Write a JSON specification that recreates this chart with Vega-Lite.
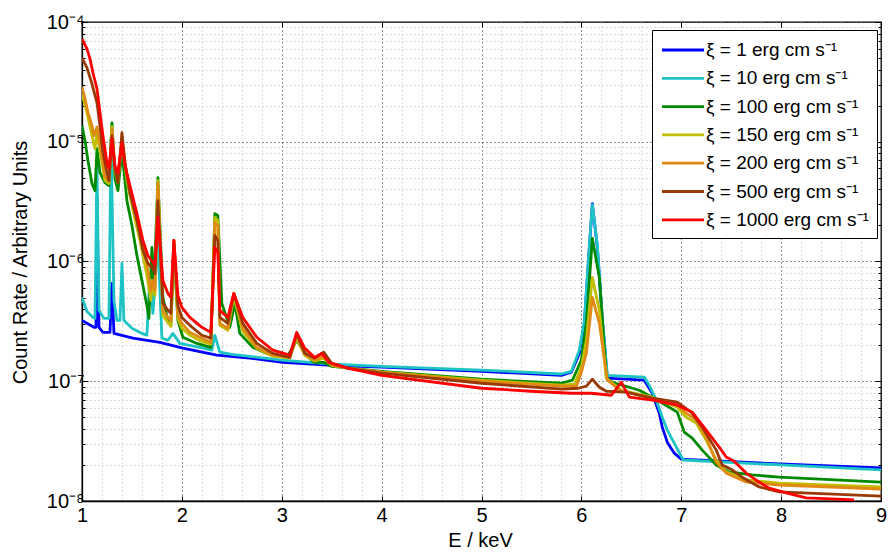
{
 "$schema": "https://vega.github.io/schema/vega-lite/v6.json",
 "width": 799, "height": 479,
 "autosize": {"type": "none"},
 "padding": {"left": 82, "top": 22, "right": 9, "bottom": 53},
 "background": "#ffffff",
 "config": {"view": {"stroke": "#000", "strokeWidth": 1.3}, "font": "Liberation Sans"},
 "data": {"values": [
{"k":1,"E":1,"v":3.22e-7},{"k":1,"E":1.12,"v":2.82e-7},{"k":1,"E":1.14,"v":2.82e-7},{"k":1,"E":1.15,"v":3.48e-6},{"k":1,"E":1.17,"v":2.82e-7},{"k":1,"E":1.21,"v":2.56e-7},{"k":1,"E":1.28,"v":2.56e-7},{"k":1,"E":1.3,"v":6.56e-7},{"k":1,"E":1.32,"v":2.51e-7},{"k":1,"E":1.51,"v":2.29e-7},{"k":1,"E":1.78,"v":2.11e-7},{"k":1,"E":2.01,"v":1.89e-7},{"k":1,"E":2.35,"v":1.65e-7},{"k":1,"E":2.68,"v":1.56e-7},{"k":1,"E":3.01,"v":1.44e-7},{"k":1,"E":3.5,"v":1.36e-7},{"k":1,"E":4,"v":1.31e-7},{"k":1,"E":5,"v":1.21e-7},{"k":1,"E":5.8,"v":1.12e-7},{"k":1,"E":5.9,"v":1.19e-7},{"k":1,"E":5.98,"v":1.71e-7},{"k":1,"E":6.03,"v":3.04e-7},{"k":1,"E":6.08,"v":1.31e-6},{"k":1,"E":6.11,"v":3.04e-6},{"k":1,"E":6.16,"v":1.31e-6},{"k":1,"E":6.21,"v":3.22e-7},{"k":1,"E":6.26,"v":1.06e-7},{"k":1,"E":6.63,"v":1.02e-7},{"k":1,"E":6.71,"v":7.94e-8},{"k":1,"E":6.78,"v":5.41e-8},{"k":1,"E":6.81,"v":4.14e-8},{"k":1,"E":6.86,"v":3.1e-8},{"k":1,"E":6.93,"v":2.51e-8},{"k":1,"E":7,"v":2.24e-8},{"k":1,"E":7.98,"v":2.04e-8},{"k":1,"E":9,"v":1.89e-8},
{"k":10,"E":1,"v":5.01e-7},{"k":10,"E":1.05,"v":3.83e-7},{"k":10,"E":1.11,"v":3.41e-7},{"k":10,"E":1.13,"v":3.35e-7},{"k":10,"E":1.15,"v":6.31e-6},{"k":10,"E":1.17,"v":3.91e-7},{"k":10,"E":1.22,"v":3.35e-7},{"k":10,"E":1.27,"v":3.35e-7},{"k":10,"E":1.29,"v":1.06e-5},{"k":10,"E":1.32,"v":4.73e-7},{"k":10,"E":1.35,"v":3.22e-7},{"k":10,"E":1.38,"v":3.22e-7},{"k":10,"E":1.4,"v":9.62e-7},{"k":10,"E":1.42,"v":3.22e-7},{"k":10,"E":1.5,"v":2.77e-7},{"k":10,"E":1.6,"v":2.51e-7},{"k":10,"E":1.65,"v":2.42e-7},{"k":10,"E":1.68,"v":7.94e-7},{"k":10,"E":1.71,"v":3.69e-7},{"k":10,"E":1.76,"v":1.5e-6},{"k":10,"E":1.8,"v":2.29e-7},{"k":10,"E":1.86,"v":2.2e-7},{"k":10,"E":1.91,"v":2.51e-7},{"k":10,"E":1.98,"v":2.07e-7},{"k":10,"E":2.18,"v":1.92e-7},{"k":10,"E":2.3,"v":1.82e-7},{"k":10,"E":2.33,"v":2.42e-7},{"k":10,"E":2.38,"v":1.75e-7},{"k":10,"E":2.5,"v":1.68e-7},{"k":10,"E":3,"v":1.5e-7},{"k":10,"E":3.5,"v":1.39e-7},{"k":10,"E":4,"v":1.33e-7},{"k":10,"E":5,"v":1.24e-7},{"k":10,"E":5.8,"v":1.15e-7},{"k":10,"E":5.9,"v":1.21e-7},{"k":10,"E":5.98,"v":1.82e-7},{"k":10,"E":6.03,"v":3.22e-7},{"k":10,"E":6.08,"v":1.36e-6},{"k":10,"E":6.11,"v":2.99e-6},{"k":10,"E":6.16,"v":1.36e-6},{"k":10,"E":6.21,"v":3.35e-7},{"k":10,"E":6.26,"v":1.12e-7},{"k":10,"E":6.63,"v":1.08e-7},{"k":10,"E":6.68,"v":9.26e-8},{"k":10,"E":6.75,"v":6.95e-8},{"k":10,"E":6.81,"v":5.01e-8},{"k":10,"E":6.86,"v":3.91e-8},{"k":10,"E":6.93,"v":3.04e-8},{"k":10,"E":7.02,"v":2.2e-8},{"k":10,"E":8,"v":2.0e-8},{"k":10,"E":9,"v":1.82e-8},
{"k":100,"E":1,"v":1.36e-5},{"k":100,"E":1.03,"v":1.02e-5},{"k":100,"E":1.06,"v":6.95e-6},{"k":100,"E":1.1,"v":4.47e-6},{"k":100,"E":1.13,"v":3.91e-6},{"k":100,"E":1.15,"v":8.74e-6},{"k":100,"E":1.18,"v":5.52e-6},{"k":100,"E":1.23,"v":4.56e-6},{"k":100,"E":1.27,"v":4.3e-6},{"k":100,"E":1.3,"v":1.44e-5},{"k":100,"E":1.33,"v":4.92e-6},{"k":100,"E":1.36,"v":3.91e-6},{"k":100,"E":1.4,"v":8.41e-6},{"k":100,"E":1.45,"v":3.22e-6},{"k":100,"E":1.5,"v":2.0e-6},{"k":100,"E":1.55,"v":1.12e-6},{"k":100,"E":1.6,"v":6.95e-7},{"k":100,"E":1.65,"v":4.3e-7},{"k":100,"E":1.67,"v":3.35e-7},{"k":100,"E":1.7,"v":1.31e-6},{"k":100,"E":1.72,"v":5.73e-7},{"k":100,"E":1.76,"v":5.01e-6},{"k":100,"E":1.81,"v":5.01e-7},{"k":100,"E":1.86,"v":3.22e-7},{"k":100,"E":1.89,"v":2.93e-7},{"k":100,"E":1.92,"v":1.24e-6},{"k":100,"E":1.96,"v":3.22e-7},{"k":100,"E":2.01,"v":2.33e-7},{"k":100,"E":2.15,"v":2.07e-7},{"k":100,"E":2.29,"v":1.92e-7},{"k":100,"E":2.33,"v":2.51e-6},{"k":100,"E":2.36,"v":2.42e-6},{"k":100,"E":2.4,"v":4.47e-7},{"k":100,"E":2.48,"v":2.82e-7},{"k":100,"E":2.53,"v":4.47e-7},{"k":100,"E":2.58,"v":2.51e-7},{"k":100,"E":2.71,"v":1.92e-7},{"k":100,"E":2.85,"v":1.71e-7},{"k":100,"E":3.05,"v":1.58e-7},{"k":100,"E":3.15,"v":2.2e-7},{"k":100,"E":3.25,"v":1.65e-7},{"k":100,"E":3.32,"v":1.44e-7},{"k":100,"E":3.42,"v":1.44e-7},{"k":100,"E":3.5,"v":1.33e-7},{"k":100,"E":4,"v":1.21e-7},{"k":100,"E":5,"v":1.04e-7},{"k":100,"E":5.8,"v":9.62e-8},{"k":100,"E":5.91,"v":1.02e-7},{"k":100,"E":6,"v":1.5e-7},{"k":100,"E":6.05,"v":3.04e-7},{"k":100,"E":6.11,"v":1.56e-6},{"k":100,"E":6.18,"v":7.36e-7},{"k":100,"E":6.25,"v":1.08e-7},{"k":100,"E":6.31,"v":9.81e-8},{"k":100,"E":6.58,"v":8.41e-8},{"k":100,"E":6.71,"v":7.36e-8},{"k":100,"E":6.88,"v":6.07e-8},{"k":100,"E":6.96,"v":5.52e-8},{"k":100,"E":7.03,"v":3.76e-8},{"k":100,"E":7.11,"v":3.35e-8},{"k":100,"E":7.21,"v":2.66e-8},{"k":100,"E":7.35,"v":2.0e-8},{"k":100,"E":7.48,"v":1.75e-8},{"k":100,"E":7.71,"v":1.65e-8},{"k":100,"E":7.98,"v":1.58e-8},{"k":100,"E":9,"v":1.44e-8},
{"k":150,"E":1,"v":2.51e-5},{"k":150,"E":1.05,"v":1.75e-5},{"k":150,"E":1.1,"v":1.12e-5},{"k":150,"E":1.13,"v":8.74e-6},{"k":150,"E":1.15,"v":1.19e-5},{"k":150,"E":1.18,"v":8.41e-6},{"k":150,"E":1.23,"v":4.73e-6},{"k":150,"E":1.27,"v":4.47e-6},{"k":150,"E":1.3,"v":1.33e-5},{"k":150,"E":1.33,"v":5.73e-6},{"k":150,"E":1.36,"v":4.56e-6},{"k":150,"E":1.4,"v":1.02e-5},{"k":150,"E":1.45,"v":4.73e-6},{"k":150,"E":1.5,"v":2.93e-6},{"k":150,"E":1.58,"v":1.5e-6},{"k":150,"E":1.65,"v":7.64e-7},{"k":150,"E":1.69,"v":4.73e-7},{"k":150,"E":1.7,"v":6.95e-7},{"k":150,"E":1.73,"v":5.21e-7},{"k":150,"E":1.76,"v":4.73e-6},{"k":150,"E":1.81,"v":3.55e-7},{"k":150,"E":1.86,"v":3.1e-7},{"k":150,"E":1.89,"v":2.87e-7},{"k":150,"E":1.92,"v":1.41e-6},{"k":150,"E":1.96,"v":3.35e-7},{"k":150,"E":2,"v":2.77e-7},{"k":150,"E":2.08,"v":2.42e-7},{"k":150,"E":2.2,"v":2.15e-7},{"k":150,"E":2.29,"v":2.04e-7},{"k":150,"E":2.33,"v":2.33e-6},{"k":150,"E":2.36,"v":2.2e-6},{"k":150,"E":2.38,"v":2.93e-7},{"k":150,"E":2.46,"v":2.66e-7},{"k":150,"E":2.52,"v":5.11e-7},{"k":150,"E":2.61,"v":2.61e-7},{"k":150,"E":2.75,"v":1.89e-7},{"k":150,"E":2.91,"v":1.62e-7},{"k":150,"E":3.08,"v":1.56e-7},{"k":150,"E":3.15,"v":2.29e-7},{"k":150,"E":3.23,"v":1.65e-7},{"k":150,"E":3.33,"v":1.47e-7},{"k":150,"E":3.42,"v":1.56e-7},{"k":150,"E":3.5,"v":1.36e-7},{"k":150,"E":3.67,"v":1.28e-7},{"k":150,"E":4,"v":1.19e-7},{"k":150,"E":5,"v":1.02e-7},{"k":150,"E":5.8,"v":9.26e-8},{"k":150,"E":5.93,"v":9.44e-8},{"k":150,"E":6,"v":1.31e-7},{"k":150,"E":6.05,"v":2.2e-7},{"k":150,"E":6.11,"v":7.36e-7},{"k":150,"E":6.18,"v":3.91e-7},{"k":150,"E":6.25,"v":1.06e-7},{"k":150,"E":6.4,"v":8.41e-8},{"k":150,"E":6.71,"v":7.36e-8},{"k":150,"E":6.96,"v":6.07e-8},{"k":150,"E":7.05,"v":5.01e-8},{"k":150,"E":7.15,"v":4.47e-8},{"k":150,"E":7.25,"v":3.22e-8},{"k":150,"E":7.35,"v":2.2e-8},{"k":150,"E":7.45,"v":1.75e-8},{"k":150,"E":7.65,"v":1.5e-8},{"k":150,"E":7.98,"v":1.41e-8},{"k":150,"E":9,"v":1.31e-8},
{"k":200,"E":1,"v":2.87e-5},{"k":200,"E":1.03,"v":2.29e-5},{"k":200,"E":1.06,"v":1.75e-5},{"k":200,"E":1.1,"v":1.36e-5},{"k":200,"E":1.12,"v":1.12e-5},{"k":200,"E":1.15,"v":1.33e-5},{"k":200,"E":1.18,"v":9.62e-6},{"k":200,"E":1.23,"v":5.11e-6},{"k":200,"E":1.27,"v":4.73e-6},{"k":200,"E":1.3,"v":1.28e-5},{"k":200,"E":1.33,"v":5.96e-6},{"k":200,"E":1.36,"v":4.92e-6},{"k":200,"E":1.4,"v":1.06e-5},{"k":200,"E":1.45,"v":5.21e-6},{"k":200,"E":1.5,"v":3.55e-6},{"k":200,"E":1.58,"v":1.82e-6},{"k":200,"E":1.65,"v":9.62e-7},{"k":200,"E":1.69,"v":5.73e-7},{"k":200,"E":1.71,"v":6.95e-7},{"k":200,"E":1.73,"v":5.73e-7},{"k":200,"E":1.76,"v":4.47e-6},{"k":200,"E":1.81,"v":3.91e-7},{"k":200,"E":1.86,"v":3.41e-7},{"k":200,"E":1.89,"v":3.22e-7},{"k":200,"E":1.92,"v":1.5e-6},{"k":200,"E":1.96,"v":3.55e-7},{"k":200,"E":2,"v":3.04e-7},{"k":200,"E":2.08,"v":2.56e-7},{"k":200,"E":2.2,"v":2.29e-7},{"k":200,"E":2.29,"v":2.11e-7},{"k":200,"E":2.33,"v":2.11e-6},{"k":200,"E":2.36,"v":2.0e-6},{"k":200,"E":2.38,"v":3.04e-7},{"k":200,"E":2.46,"v":2.77e-7},{"k":200,"E":2.52,"v":5.41e-7},{"k":200,"E":2.61,"v":2.77e-7},{"k":200,"E":2.75,"v":1.92e-7},{"k":200,"E":2.91,"v":1.65e-7},{"k":200,"E":3.08,"v":1.58e-7},{"k":200,"E":3.15,"v":2.37e-7},{"k":200,"E":3.23,"v":1.68e-7},{"k":200,"E":3.33,"v":1.5e-7},{"k":200,"E":3.42,"v":1.62e-7},{"k":200,"E":3.5,"v":1.36e-7},{"k":200,"E":3.67,"v":1.28e-7},{"k":200,"E":4,"v":1.19e-7},{"k":200,"E":5,"v":1.0e-7},{"k":200,"E":5.8,"v":9.09e-8},{"k":200,"E":5.95,"v":9.09e-8},{"k":200,"E":6,"v":1.19e-7},{"k":200,"E":6.05,"v":1.71e-7},{"k":200,"E":6.11,"v":5.01e-7},{"k":200,"E":6.18,"v":3.04e-7},{"k":200,"E":6.26,"v":1.02e-7},{"k":200,"E":6.4,"v":8.25e-8},{"k":200,"E":6.71,"v":7.22e-8},{"k":200,"E":6.96,"v":6.31e-8},{"k":200,"E":7.05,"v":5.41e-8},{"k":200,"E":7.15,"v":4.73e-8},{"k":200,"E":7.25,"v":3.41e-8},{"k":200,"E":7.35,"v":2.11e-8},{"k":200,"E":7.45,"v":1.71e-8},{"k":200,"E":7.65,"v":1.44e-8},{"k":200,"E":7.98,"v":1.36e-8},{"k":200,"E":9,"v":1.26e-8},
{"k":500,"E":1,"v":5.01e-5},{"k":500,"E":1.05,"v":4.14e-5},{"k":500,"E":1.1,"v":3.04e-5},{"k":500,"E":1.15,"v":2.11e-5},{"k":500,"E":1.18,"v":1.36e-5},{"k":500,"E":1.21,"v":8.1e-6},{"k":500,"E":1.25,"v":5.52e-6},{"k":500,"E":1.27,"v":4.73e-6},{"k":500,"E":1.3,"v":1.12e-5},{"k":500,"E":1.33,"v":5.96e-6},{"k":500,"E":1.36,"v":4.56e-6},{"k":500,"E":1.4,"v":1.19e-5},{"k":500,"E":1.43,"v":6.68e-6},{"k":500,"E":1.48,"v":3.76e-6},{"k":500,"E":1.55,"v":2.2e-6},{"k":500,"E":1.61,"v":1.24e-6},{"k":500,"E":1.66,"v":9.62e-7},{"k":500,"E":1.71,"v":8.74e-7},{"k":500,"E":1.73,"v":7.94e-7},{"k":500,"E":1.76,"v":3.22e-6},{"k":500,"E":1.81,"v":4.47e-7},{"k":500,"E":1.86,"v":3.91e-7},{"k":500,"E":1.89,"v":3.69e-7},{"k":500,"E":1.92,"v":1.5e-6},{"k":500,"E":1.96,"v":4.3e-7},{"k":500,"E":2,"v":3.41e-7},{"k":500,"E":2.08,"v":2.93e-7},{"k":500,"E":2.2,"v":2.42e-7},{"k":500,"E":2.29,"v":2.29e-7},{"k":500,"E":2.33,"v":1.65e-6},{"k":500,"E":2.36,"v":1.5e-6},{"k":500,"E":2.38,"v":3.41e-7},{"k":500,"E":2.46,"v":3.04e-7},{"k":500,"E":2.52,"v":5.41e-7},{"k":500,"E":2.61,"v":3.04e-7},{"k":500,"E":2.75,"v":2.07e-7},{"k":500,"E":2.91,"v":1.71e-7},{"k":500,"E":3.08,"v":1.58e-7},{"k":500,"E":3.15,"v":2.51e-7},{"k":500,"E":3.23,"v":1.71e-7},{"k":500,"E":3.33,"v":1.56e-7},{"k":500,"E":3.42,"v":1.75e-7},{"k":500,"E":3.5,"v":1.41e-7},{"k":500,"E":3.67,"v":1.28e-7},{"k":500,"E":4,"v":1.17e-7},{"k":500,"E":5,"v":9.62e-8},{"k":500,"E":5.8,"v":8.58e-8},{"k":500,"E":5.97,"v":8.74e-8},{"k":500,"E":6.05,"v":9.09e-8},{"k":500,"E":6.11,"v":1.04e-7},{"k":500,"E":6.18,"v":8.91e-8},{"k":500,"E":6.25,"v":8.25e-8},{"k":500,"E":6.45,"v":8.1e-8},{"k":500,"E":6.71,"v":7.22e-8},{"k":500,"E":6.96,"v":6.68e-8},{"k":500,"E":7.1,"v":5.52e-8},{"k":500,"E":7.21,"v":4.14e-8},{"k":500,"E":7.35,"v":2.66e-8},{"k":500,"E":7.41,"v":2.0e-8},{"k":500,"E":7.51,"v":1.82e-8},{"k":500,"E":7.61,"v":1.58e-8},{"k":500,"E":7.78,"v":1.31e-8},{"k":500,"E":7.98,"v":1.19e-8},{"k":500,"E":9,"v":1.1e-8},
{"k":1000,"E":1,"v":7.22e-5},{"k":1000,"E":1.02,"v":6.68e-5},{"k":1000,"E":1.05,"v":5.96e-5},{"k":1000,"E":1.08,"v":4.92e-5},{"k":1000,"E":1.11,"v":3.76e-5},{"k":1000,"E":1.15,"v":2.77e-5},{"k":1000,"E":1.18,"v":1.75e-5},{"k":1000,"E":1.21,"v":1.12e-5},{"k":1000,"E":1.25,"v":6.68e-6},{"k":1000,"E":1.27,"v":5.96e-6},{"k":1000,"E":1.3,"v":1.06e-5},{"k":1000,"E":1.33,"v":6.31e-6},{"k":1000,"E":1.36,"v":5.52e-6},{"k":1000,"E":1.4,"v":9.81e-6},{"k":1000,"E":1.43,"v":6.31e-6},{"k":1000,"E":1.48,"v":4.3e-6},{"k":1000,"E":1.55,"v":2.51e-6},{"k":1000,"E":1.61,"v":1.5e-6},{"k":1000,"E":1.66,"v":1.12e-6},{"k":1000,"E":1.71,"v":9.81e-7},{"k":1000,"E":1.73,"v":9.26e-7},{"k":1000,"E":1.76,"v":2.33e-6},{"k":1000,"E":1.81,"v":6.95e-7},{"k":1000,"E":1.86,"v":5.41e-7},{"k":1000,"E":1.89,"v":5.01e-7},{"k":1000,"E":1.92,"v":1.5e-6},{"k":1000,"E":1.96,"v":5.21e-7},{"k":1000,"E":2,"v":4.14e-7},{"k":1000,"E":2.08,"v":3.41e-7},{"k":1000,"E":2.2,"v":2.82e-7},{"k":1000,"E":2.29,"v":2.56e-7},{"k":1000,"E":2.33,"v":1.31e-6},{"k":1000,"E":2.36,"v":1.19e-6},{"k":1000,"E":2.38,"v":3.91e-7},{"k":1000,"E":2.46,"v":3.41e-7},{"k":1000,"E":2.52,"v":5.41e-7},{"k":1000,"E":2.61,"v":3.41e-7},{"k":1000,"E":2.75,"v":2.33e-7},{"k":1000,"E":2.91,"v":1.82e-7},{"k":1000,"E":3.08,"v":1.65e-7},{"k":1000,"E":3.15,"v":2.56e-7},{"k":1000,"E":3.23,"v":1.89e-7},{"k":1000,"E":3.33,"v":1.58e-7},{"k":1000,"E":3.4,"v":1.71e-7},{"k":1000,"E":3.47,"v":1.44e-7},{"k":1000,"E":3.67,"v":1.28e-7},{"k":1000,"E":4,"v":1.12e-7},{"k":1000,"E":5,"v":8.74e-8},{"k":1000,"E":5.5,"v":8.25e-8},{"k":1000,"E":5.9,"v":7.94e-8},{"k":1000,"E":6.1,"v":7.94e-8},{"k":1000,"E":6.3,"v":7.64e-8},{"k":1000,"E":6.4,"v":9.81e-8},{"k":1000,"E":6.48,"v":7.36e-8},{"k":1000,"E":6.71,"v":6.95e-8},{"k":1000,"E":6.96,"v":6.31e-8},{"k":1000,"E":7.11,"v":5.52e-8},{"k":1000,"E":7.25,"v":3.91e-8},{"k":1000,"E":7.38,"v":2.82e-8},{"k":1000,"E":7.45,"v":2.33e-8},{"k":1000,"E":7.53,"v":2.15e-8},{"k":1000,"E":7.65,"v":1.71e-8},{"k":1000,"E":7.78,"v":1.44e-8},{"k":1000,"E":7.88,"v":1.28e-8},{"k":1000,"E":8.05,"v":1.17e-8},{"k":1000,"E":8.25,"v":1.06e-8},{"k":1000,"E":8.51,"v":1.04e-8},{"k":1000,"E":8.73,"v":1.02e-8}
 ]},
 "layer": [
  {
   "mark": {"type": "line", "strokeWidth": 2.8, "strokeJoin": "round", "clip": true},
   "encoding": {
    "x": {"field": "E", "type": "quantitative",
     "scale": {"domain": [1, 9], "nice": false, "zero": false},
     "axis": {"title": "E / keV", "titleFontSize": 20, "titleFontWeight": "normal", "titleColor": "#000",
      "titleX": 398, "titleY": 39, "titleBaseline": "middle", "titleAlign": "center",
      "values": [1,1.2,1.4,1.6,1.8,2,2.2,2.4,2.6,2.8,3,3.2,3.4,3.6,3.8,4,4.2,4.4,4.6,4.8,5,5.2,5.4,5.6,5.8,6,6.2,6.4,6.6,6.8,7,7.2,7.4,7.6,7.8,8,8.2,8.4,8.6,8.8,9],
      "labelExpr": "datum.value % 1 === 0 ? '' + datum.value : ''",
      "labelFontSize": 20, "labelColor": "#000", "labelFlush": false, "labelOverlap": false, "labelPadding": 9,
      "tickSize": -5, "tickColor": "#000", "tickOpacity": {"condition": {"test": "datum.value % 1 === 0", "value": 1}, "value": 0},
      "domainColor": "#000", "domainWidth": 1.3,
      "grid": true, "gridDash": [1, 3], "gridWidth": 1,
      "gridColor": {"condition": {"test": "datum.value % 1 === 0", "value": "#222"}, "value": "#b8b8b8"}}},
    "y": {"field": "v", "type": "quantitative",
     "scale": {"type": "log", "domain": [1e-8, 1e-4], "nice": false},
     "axis": {"title": "Count Rate / Arbitrary Units", "titleFontSize": 20, "titleFontWeight": "normal", "titleColor": "#000",
      "titleX": -62, "titleY": 240, "titleAngle": -90, "titleBaseline": "middle", "titleAlign": "center",
      "values": [1e-8,2e-8,3e-8,4e-8,5e-8,6e-8,7e-8,8e-8,9e-8,1e-7,2e-7,3e-7,4e-7,5e-7,6e-7,7e-7,8e-7,9e-7,1e-6,2e-6,3e-6,4e-6,5e-6,6e-6,7e-6,8e-6,9e-6,1e-5,2e-5,3e-5,4e-5,5e-5,6e-5,7e-5,8e-5,9e-5,1e-4],
      "labelExpr": "abs(log(datum.value)/LN10 - round(log(datum.value)/LN10)) < 0.001 ? ['10⁻⁴','10⁻⁵','10⁻⁶','10⁻⁷','10⁻⁸'][-round(log(datum.value)/LN10)-4] : ''",
      "labelFontSize": 20, "labelColor": "#000", "labelFlush": false, "labelOverlap": false, "labelPadding": 4,
      "tickColor": "#000",
      "tickSize": {"condition": {"test": "abs(log(datum.value)/LN10 - round(log(datum.value)/LN10)) < 0.001", "value": -6}, "value": -3},
      "domainColor": "#000", "domainWidth": 1.3,
      "grid": true, "gridDash": [1, 3], "gridWidth": 1,
      "gridColor": {"condition": {"test": "abs(log(datum.value)/LN10 - round(log(datum.value)/LN10)) < 0.001", "value": "#222"}, "value": "#b8b8b8"}}},
    "color": {"field": "k", "type": "ordinal",
     "scale": {"domain": [1, 10, 100, 150, 200, 500, 1000], "range": ["#0000ff", "#1ec3c3", "#008a00", "#bfbf00", "#e08a14", "#993a06", "#ff0000"]},
     "legend": {"title": null, "orient": "none", "legendX": 570, "legendY": 8, "strokeColor": "#000", "fillColor": "#fff", "padding": 8,
      "labelFontSize": 19, "labelColor": "#000", "labelLimit": 400, "labelExpr": "'ξ = ' + datum.label + ' erg cm s⁻¹'",
      "symbolType": "M-2,0H2", "symbolSize": 441, "symbolOffset": 11, "symbolStrokeWidth": 2.8, "rowPadding": 6.3, "labelOffset": 11}}
   }
  },
  {
   "mark": {"type": "point", "opacity": 0},
   "encoding": {
    "x": {"field": "E", "type": "quantitative",
     "scale": {"domain": [1, 9], "nice": false, "zero": false},
     "axis": {"orient": "top", "title": null, "labels": false, "grid": false, "domain": false,
      "values": [1,2,3,4,5,6,7,8,9], "tickSize": -5, "tickColor": "#000"}},
    "y": {"field": "v", "type": "quantitative",
     "scale": {"type": "log", "domain": [1e-8, 1e-4], "nice": false},
     "axis": {"orient": "right", "title": null, "labels": false, "grid": false, "domain": false,
      "values": [1e-8,2e-8,3e-8,4e-8,5e-8,6e-8,7e-8,8e-8,9e-8,1e-7,2e-7,3e-7,4e-7,5e-7,6e-7,7e-7,8e-7,9e-7,1e-6,2e-6,3e-6,4e-6,5e-6,6e-6,7e-6,8e-6,9e-6,1e-5,2e-5,3e-5,4e-5,5e-5,6e-5,7e-5,8e-5,9e-5,1e-4],
      "tickColor": "#000",
      "tickSize": {"condition": {"test": "abs(log(datum.value)/LN10 - round(log(datum.value)/LN10)) < 0.001", "value": -6}, "value": -3}}}
   }
  }
 ],
 "resolve": {"axis": {"x": "independent", "y": "independent"}}
}
